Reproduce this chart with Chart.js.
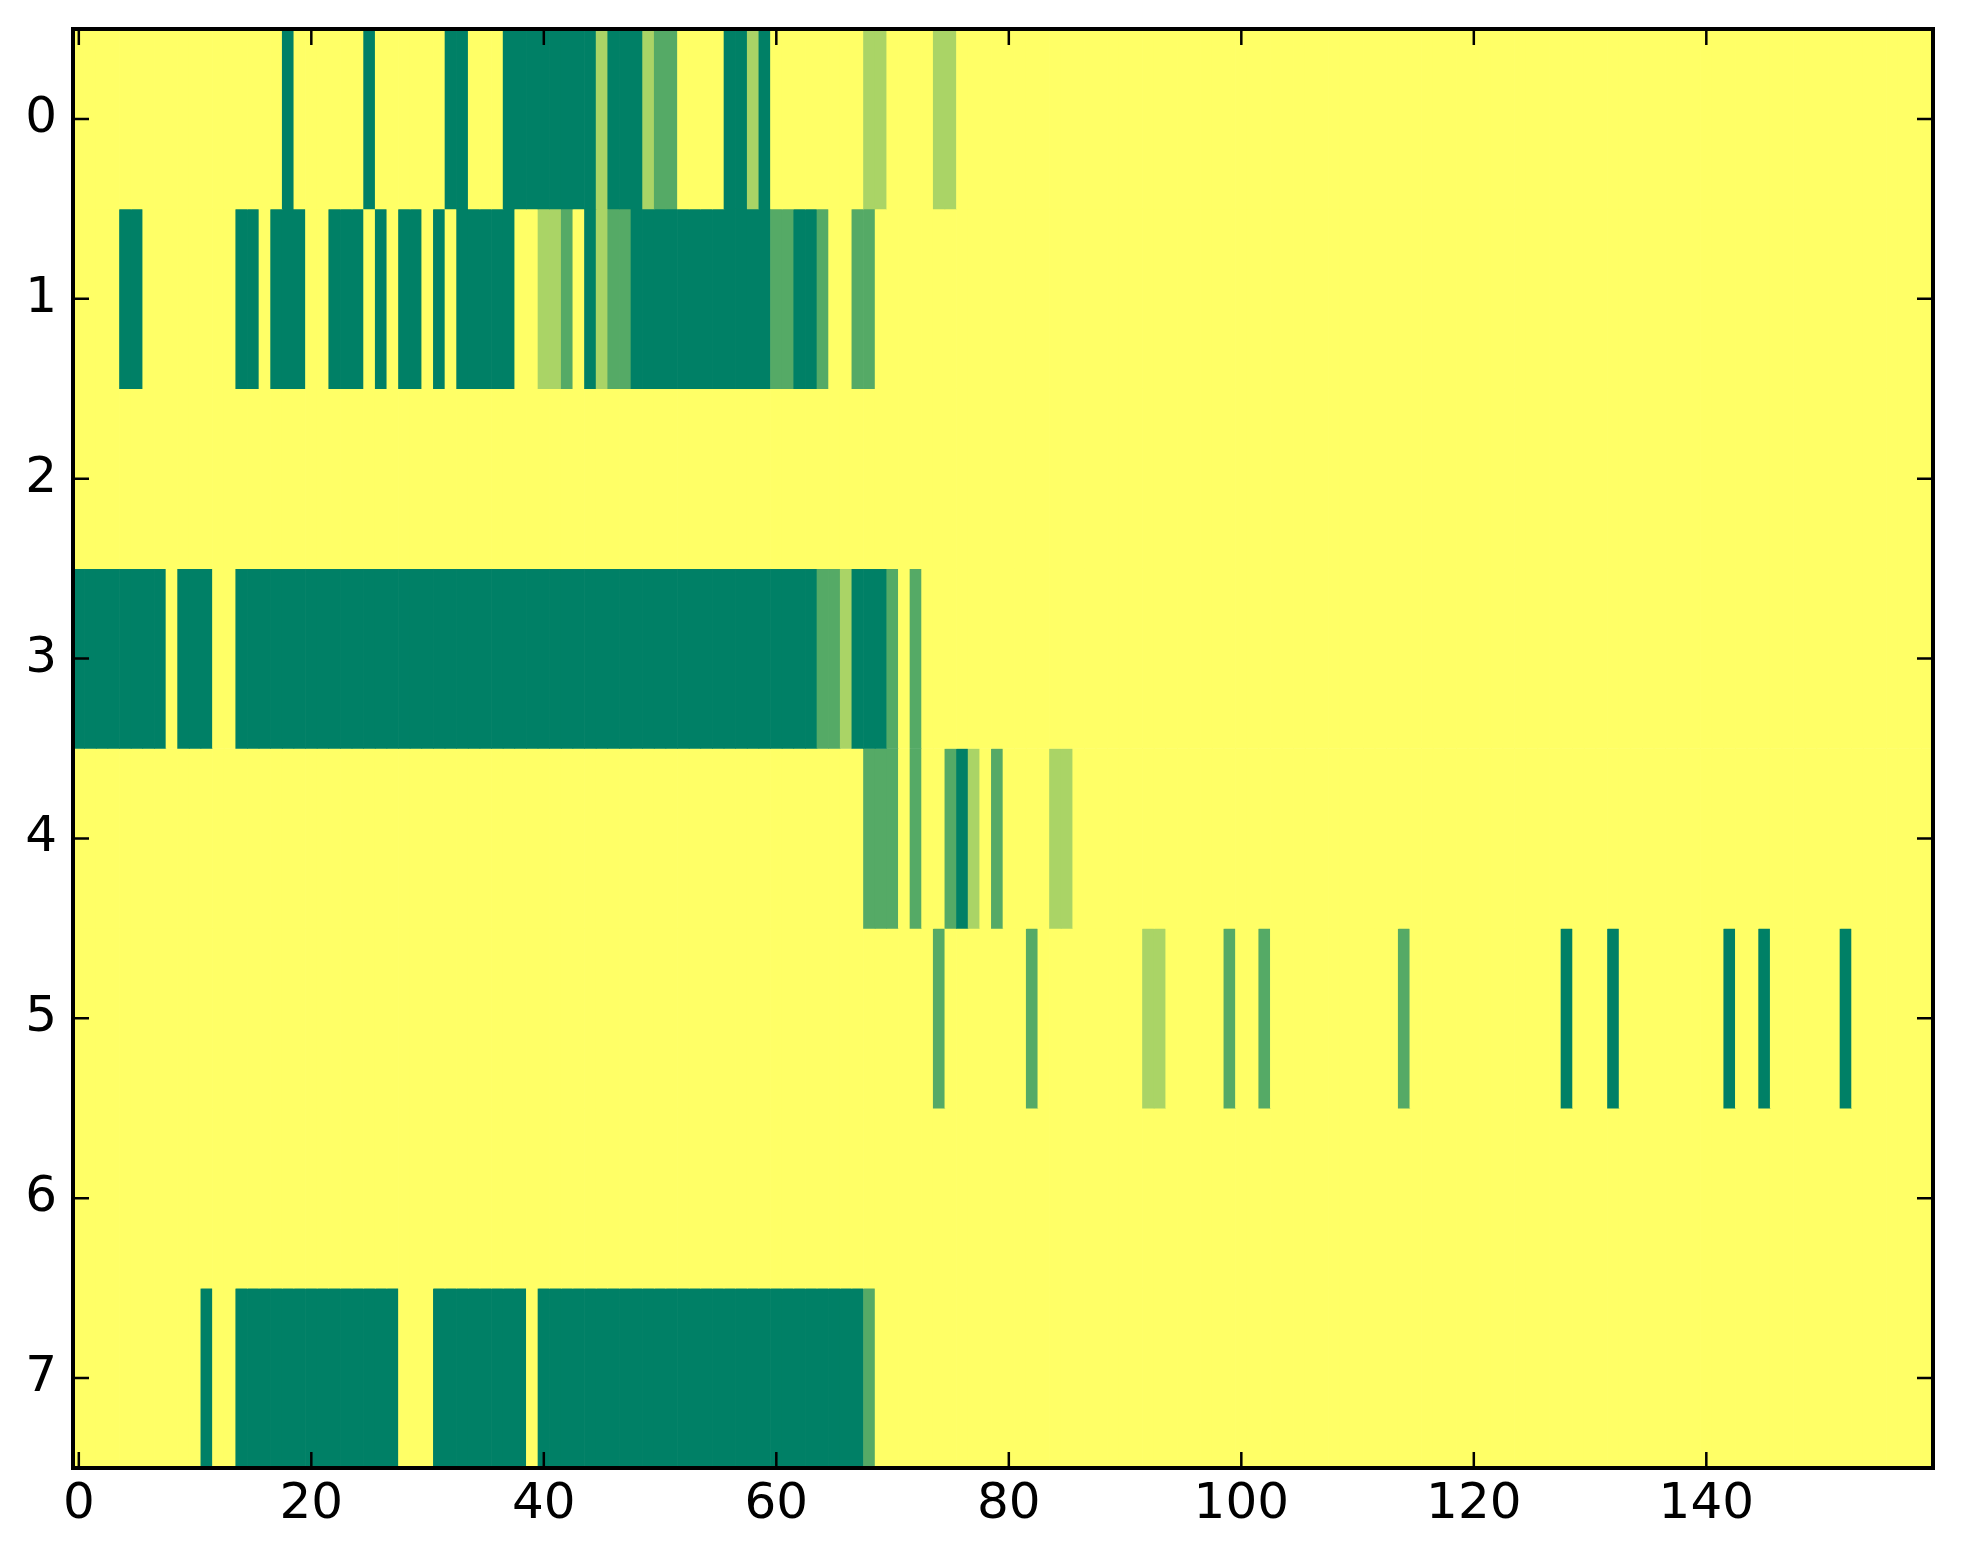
<!DOCTYPE html>
<html>
<head>
<meta charset="utf-8">
<script src="https://cdn.jsdelivr.net/npm/chart.js@4.4.1/dist/chart.umd.min.js"></script>
<style>
    html, body { margin: 0; padding: 0; background: #fff; }
    #wrap { width: 1963px; height: 1564px; }
</style>
</head>
<body>
<div id="wrap"><canvas id="grafica"></canvas></div>
<script>
// Niveles de la imagen: 0 amarillo ... 3 verde oscuro (mapa summer invertido)
const colores = ['#ffff66', '#aad466', '#55aa66', '#008066'];

// Ticks de los ejes
const xTicks = [0, 20, 40, 60, 80, 100, 120, 140];
const yTicks = [0, 1, 2, 3, 4, 5, 6, 7];

// Una cadena por fila, 160 columnas en grupos de 10
const fila0 = "0000000000 0000000030 0000030000 0033000333 3333313331 2200003313 0000000011 0000110000 0000000000 0000000000 0000000000 0000000000 0000000000 0000000000 0000000000 0000000000";
const fila1 = "0000330000 0000330333 0033303033 0303333300 1120312233 3333333333 2233200220 0000000000 0000000000 0000000000 0000000000 0000000000 0000000000 0000000000 0000000000 0000000000";
const fila2 = "0000000000 0000000000 0000000000 0000000000 0000000000 0000000000 0000000000 0000000000 0000000000 0000000000 0000000000 0000000000 0000000000 0000000000 0000000000 0000000000";
const fila3 = "3333333303 3300333333 3333333333 3333333333 3333333333 3333333333 3333221333 2020000000 0000000000 0000000000 0000000000 0000000000 0000000000 0000000000 0000000000 0000000000";
const fila4 = "0000000000 0000000000 0000000000 0000000000 0000000000 0000000000 0000000022 2020023102 0000110000 0000000000 0000000000 0000000000 0000000000 0000000000 0000000000 0000000000";
const fila5 = "0000000000 0000000000 0000000000 0000000000 0000000000 0000000000 0000000000 0000200000 0020000000 0011000002 0020000000 0000200000 0000000030 0030000000 0030030000 0030000000";
const fila6 = "0000000000 0000000000 0000000000 0000000000 0000000000 0000000000 0000000000 0000000000 0000000000 0000000000 0000000000 0000000000 0000000000 0000000000 0000000000 0000000000";
const fila7 = "0000000000 0300333333 3333333300 0333333330 3333333333 3333333333 3333333320 0000000000 0000000000 0000000000 0000000000 0000000000 0000000000 0000000000 0000000000 0000000000";

const filas = [fila0, fila1, fila2, fila3, fila4, fila5, fila6, fila7]
    .map(s => s.replace(/\s+/g, '').split('').map(Number));

const nCols = filas[0].length;
const columnas = [];
for (let i = 0; i < nCols; i++) columnas.push(String(i));

// Cada fila es un dataset de barras flotantes [r-0.5, r+0.5], color segun el valor
const datasets = filas.map((fila, r) => ({
    label: 'fila ' + r,
    data: fila.map(() => [r - 0.5, r + 0.5]),
    backgroundColor: fila.map(v => colores[v]),
    borderWidth: 0,
    barPercentage: 1,
    categoryPercentage: 1,
    grouped: false
}));

// Marco y ticks hacia adentro en los cuatro lados (estilo matplotlib clasico)
const marcoPlugin = {
    id: 'marco',
    afterDatasetsDraw(chart) {
        const { ctx, chartArea: a, scales } = chart;
        const largo = 16;
        ctx.save();
        ctx.strokeStyle = '#000';
        ctx.lineWidth = 2.5;
        ctx.beginPath();
        scales.x.ticks.forEach((t, i) => {
            const px = scales.x.getPixelForTick(i);
            ctx.moveTo(px, a.bottom); ctx.lineTo(px, a.bottom - largo);
            ctx.moveTo(px, a.top); ctx.lineTo(px, a.top + largo);
        });
        scales.y.ticks.forEach((t, i) => {
            const py = scales.y.getPixelForTick(i);
            ctx.moveTo(a.left, py); ctx.lineTo(a.left + largo, py);
            ctx.moveTo(a.right, py); ctx.lineTo(a.right - largo, py);
        });
        ctx.stroke();
        ctx.lineWidth = 4;
        ctx.strokeRect(a.left, a.top, a.right - a.left, a.bottom - a.top);
        ctx.restore();
    }
};

Chart.defaults.font.family = '"DejaVu Sans", sans-serif';

const ctx = document.getElementById('grafica').getContext('2d');
new Chart(ctx, {
    type: 'bar',
    data: { labels: columnas, datasets: datasets },
    options: {
        responsive: true,
        maintainAspectRatio: false,
        animation: false,
        layout: { padding: { top: 29, right: 30, left: 0, bottom: 0 } },
        plugins: { legend: { display: false }, tooltip: { enabled: false } },
        scales: {
            x: {
                type: 'category',
                offset: true,
                grid: { display: false, drawTicks: false, tickLength: 0 },
                border: { display: false },
                afterBuildTicks: s => { s.ticks = xTicks.map(v => ({ value: v })); },
                afterFit: s => { s.height = 96; s.paddingLeft = 0; s.paddingRight = 0; },
                ticks: {
                    autoSkip: false, maxRotation: 0, minRotation: 0,
                    padding: 7, color: '#000', font: { size: 50 },
                    callback: v => String(v)
                }
            },
            y: {
                type: 'linear',
                reverse: true,
                min: -0.5,
                max: 7.5,
                grid: { display: false, drawTicks: false, tickLength: 0 },
                border: { display: false },
                afterBuildTicks: s => { s.ticks = yTicks.map(v => ({ value: v })); },
                afterFit: s => { s.width = 73; s.paddingTop = 0; s.paddingBottom = 0; },
                ticks: {
                    padding: 16, color: '#000', font: { size: 50 },
                    callback: v => String(v)
                }
            }
        }
    },
    plugins: [marcoPlugin]
});
</script>
</body>
</html>
